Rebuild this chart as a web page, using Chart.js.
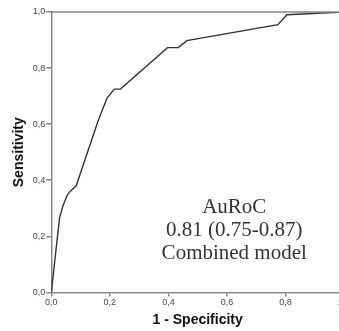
<!DOCTYPE html>
<html>
<head>
<meta charset="utf-8">
<script src="https://cdn.jsdelivr.net/npm/chart.js@4.4.1/dist/chart.umd.min.js"></script>
<style>
html,body{margin:0;padding:0;background:#fff;overflow:hidden;width:339px;height:331px;}
#wrap{position:absolute;left:0;top:0;width:360px;height:331px;}
</style>
</head>
<body>
<div id="wrap"><canvas id="c" width="360" height="331"></canvas></div>
<script>
// ROC curve: 1 - Specificity (x) vs Sensitivity (y)
const fpr = [0, 0.028, 0.040, 0.055, 0.066, 0.085, 0.160, 0.190, 0.215, 0.236, 0.397, 0.434, 0.463, 0.774, 0.805, 1.0];
const tpr = [0, 0.265, 0.310, 0.348, 0.362, 0.380, 0.612, 0.692, 0.725, 0.725, 0.873, 0.873, 0.898, 0.955, 0.990, 1.0];
const tickValues = [0, 0.2, 0.4, 0.6, 0.8, 1.0];
const xTitle = "1 - Specificity";
const yTitle = "Sensitivity";
const annotationLines = ["AuRoC", "0.81 (0.75-0.87)", "Combined model"];

const points = fpr.map((v, i) => ({x: v, y: tpr[i]}));
const fmt = v => v.toFixed(1).replace('.', ',');

const annot = {
  id: 'annot',
  afterDatasetsDraw(chart) {
    const {ctx, scales} = chart;
    ctx.save();
    ctx.font = '21px "Liberation Serif", "Times New Roman", serif';
    ctx.fillStyle = '#333';
    ctx.textAlign = 'center';
    ctx.textBaseline = 'middle';
    const cx = scales.x.getPixelForValue(0.625);
    const ys = [0.302, 0.22, 0.14];
    annotationLines.forEach((t, i) => ctx.fillText(t, cx, scales.y.getPixelForValue(ys[i])));
    // top and right border of plot frame
    const a = chart.chartArea;
    ctx.strokeStyle = '#888';
    ctx.lineWidth = 1.5;
    ctx.beginPath();
    ctx.moveTo(a.left, a.top);
    ctx.lineTo(a.right, a.top);
    ctx.lineTo(a.right, a.bottom);
    ctx.stroke();
    ctx.restore();
  }
};

new Chart(document.getElementById('c'), {
  type: 'line',
  data: {
    datasets: [{
      data: points,
      borderColor: '#333',
      borderWidth: 1.4,
      pointRadius: 0,
      fill: false,
      tension: 0
    }]
  },
  options: {
    responsive: false,
    animation: false,
    layout: {padding: {left: 7, right: 16, top: 12, bottom: 2}},
    plugins: {legend: {display: false}, tooltip: {enabled: false}},
    scales: {
      x: {
        type: 'linear', min: 0, max: 1,
        afterBuildTicks: s => { s.ticks = tickValues.map(v => ({value: v})); },
        ticks: {callback: v => fmt(v), font: {family: 'Liberation Sans, Arial', size: 9}, color: '#444', padding: 1, maxRotation: 0},
        grid: {drawOnChartArea: false, drawTicks: true, tickLength: 4, color: '#888', lineWidth: 1.5},
        border: {display: true, color: '#888', width: 1.5},
        title: {display: true, text: xTitle, font: {family: 'Liberation Sans, Arial', size: 14, weight: 'bold'}, color: '#111', padding: {top: 3, bottom: 0}}
      },
      y: {
        type: 'linear', min: 0, max: 1,
        afterBuildTicks: s => { s.ticks = tickValues.map(v => ({value: v})); },
        ticks: {callback: v => fmt(v), font: {family: 'Liberation Sans, Arial', size: 9}, color: '#444', padding: 1},
        grid: {drawOnChartArea: false, drawTicks: true, tickLength: 5, color: '#888', lineWidth: 1.5},
        border: {display: true, color: '#888', width: 1.5},
        title: {display: true, text: yTitle, font: {family: 'Liberation Sans, Arial', size: 14, weight: 'bold'}, color: '#111', padding: {top: 4, bottom: 4}}
      }
    }
  },
  plugins: [annot]
});
</script>
</body>
</html>
